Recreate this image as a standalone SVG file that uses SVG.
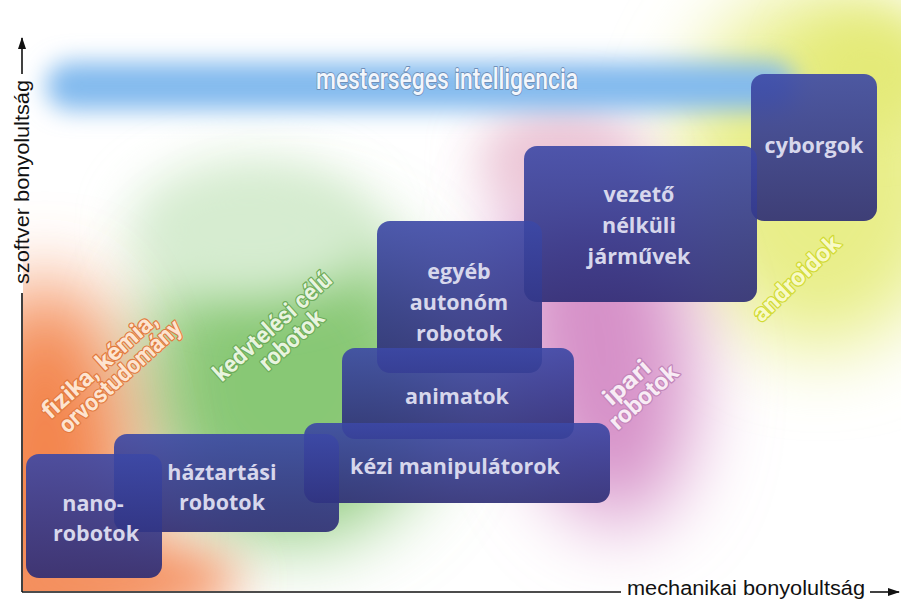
<svg xmlns="http://www.w3.org/2000/svg" width="901" height="601" viewBox="0 0 901 601">
<defs>
  <filter id="b40" x="-60%" y="-60%" width="220%" height="220%"><feGaussianBlur stdDeviation="40"/></filter>
  <filter id="b25" x="-60%" y="-60%" width="220%" height="220%"><feGaussianBlur stdDeviation="25"/></filter>
  <filter id="b10" x="-20%" y="-80%" width="140%" height="260%"><feGaussianBlur stdDeviation="12"/></filter>
  <clipPath id="plot"><rect x="23" y="0" width="878" height="591"/></clipPath>
  <linearGradient id="boxg" x1="0" y1="0" x2="0" y2="1">
    <stop offset="0" stop-color="#3c48a6"/>
    <stop offset="1" stop-color="#2b2b74"/>
  </linearGradient>
  <marker id="arr" markerWidth="12" markerHeight="8" refX="11" refY="4" orient="auto" markerUnits="userSpaceOnUse">
    <path d="M0,0 L12,4 L0,8 Z" fill="#111"/>
  </marker>
</defs>
<style>
  .box { fill: url(#boxg); opacity: 0.9; }
  .lbl { font-family: "Open Sans", "Noto Sans", sans-serif; font-weight: 700; font-size: 21.5px; fill: #d7d7ec; text-anchor: middle; }
  .cat { font-family: Roboto, "Noto Sans", sans-serif; font-weight: 700; font-size: 24px; text-anchor: middle; stroke-width: 2.4px; stroke-linejoin: round; paint-order: stroke; }
  .axis { font-family: "Liberation Sans", Arial, sans-serif; font-size: 20px; fill: #111; text-anchor: middle; }
  .ax { stroke: #111; stroke-width: 1.6; fill: none; }
</style>

<rect width="901" height="601" fill="#ffffff"/>

<g id="background" clip-path="url(#plot)">
  <ellipse cx="820" cy="170" rx="140" ry="180" fill="#e8ee88" filter="url(#b40)"/>
  <ellipse cx="870" cy="70" rx="70" ry="60" fill="#e4ea78" filter="url(#b25)"/>
  <ellipse cx="600" cy="340" rx="90" ry="185" fill="#d690c8" filter="url(#b40)" transform="rotate(-8 600 340)"/>
  <ellipse cx="560" cy="160" rx="80" ry="55" fill="#ecc6d6" filter="url(#b25)"/>
  <ellipse cx="290" cy="380" rx="150" ry="160" fill="#88c874" filter="url(#b40)"/>
  <ellipse cx="250" cy="230" rx="120" ry="70" fill="#d6ecd0" filter="url(#b25)"/>
  <ellipse cx="45" cy="500" rx="90" ry="220" fill="#f3844c" filter="url(#b40)"/>
  <ellipse cx="110" cy="580" rx="130" ry="40" fill="#f49262" filter="url(#b25)"/>
  <rect x="46" y="62" width="750" height="48" rx="24" fill="#82baee" filter="url(#b10)"/>
</g>

<text x="447" y="89" font-family="Roboto, 'Noto Sans', sans-serif" font-weight="500" font-size="30" fill="#f2f6fc" stroke="#6f8fb8" stroke-width="1.8" stroke-linejoin="round" paint-order="stroke" text-anchor="middle" textLength="262" lengthAdjust="spacingAndGlyphs">mesterséges intelligencia</text>

<g id="cat-fizika" transform="translate(100,366) rotate(-42)">
  <text class="cat" x="0" y="7" fill="#fde4d0" stroke="#e27a40" textLength="146" lengthAdjust="spacingAndGlyphs">fizika, kémia,</text>
  <text class="cat" x="8" y="29" fill="#fde4d0" stroke="#e27a40" textLength="156" lengthAdjust="spacingAndGlyphs">orvostudomány</text>
</g>
<g id="cat-kedvteles" transform="translate(273,327) rotate(-42)">
  <text class="cat" x="0" y="7" fill="#e8f4df" stroke="#6cab5a" textLength="150" lengthAdjust="spacingAndGlyphs">kedvtelési célú</text>
  <text class="cat" x="5" y="30" fill="#e8f4df" stroke="#6cab5a" textLength="78" lengthAdjust="spacingAndGlyphs">robotok</text>
</g>
<g id="cat-ipari" transform="translate(628,384) rotate(-42)">
  <text class="cat" x="0" y="6" fill="#f8ecf5" stroke="#c386ba" textLength="55" lengthAdjust="spacingAndGlyphs">ipari</text>
  <text class="cat" x="3" y="28" fill="#f8ecf5" stroke="#c386ba" textLength="84" lengthAdjust="spacingAndGlyphs">robotok</text>
</g>
<g id="cat-androidok" transform="translate(797,279) rotate(-44)">
  <text class="cat" x="0" y="7" fill="#f8fac8" stroke="#d2da36" textLength="112" lengthAdjust="spacingAndGlyphs">androidok</text>
</g>

<g id="node-cyborgok">
  <rect class="box" x="751" y="74" width="126" height="147" rx="13"/>
  <text class="lbl" x="814" y="153">cyborgok</text>
</g>
<g id="node-vezeto">
  <rect class="box" x="524" y="146" width="233" height="156" rx="13"/>
  <text class="lbl" x="639" y="202">vezető</text>
  <text class="lbl" x="639" y="233">nélküli</text>
  <text class="lbl" x="639" y="264">járművek</text>
</g>
<g id="node-egyeb">
  <rect class="box" x="377" y="221" width="165" height="152" rx="13"/>
  <text class="lbl" x="459" y="279">egyéb</text>
  <text class="lbl" x="459" y="310">autonóm</text>
  <text class="lbl" x="459" y="341">robotok</text>
</g>
<g id="node-animatok">
  <rect class="box" x="342" y="348" width="232" height="91" rx="13"/>
  <text class="lbl" x="457" y="404">animatok</text>
</g>
<g id="node-kezi">
  <rect class="box" x="304" y="423" width="306" height="80" rx="13"/>
  <text class="lbl" x="455" y="474">kézi manipulátorok</text>
</g>
<g id="node-haztartasi">
  <rect class="box" x="114" y="434" width="225" height="98" rx="13"/>
  <text class="lbl" x="222" y="480">háztartási</text>
  <text class="lbl" x="222" y="510">robotok</text>
</g>
<g id="node-nano">
  <rect class="box" x="26" y="454" width="136" height="124" rx="13"/>
  <text class="lbl" x="93" y="511">nano-</text>
  <text class="lbl" x="96" y="541">robotok</text>
</g>

<g id="connectors">
  <line class="ax" x1="22" y1="592" x2="22" y2="293"/>
  <line class="ax" x1="22" y1="74" x2="22" y2="38" marker-end="url(#arr)"/>
  <line class="ax" x1="22" y1="592" x2="621" y2="592"/>
  <line class="ax" x1="870" y1="592" x2="899" y2="592" marker-end="url(#arr)"/>
</g>
<text class="axis" transform="translate(29,182) rotate(-90)" x="0" y="0" textLength="204" lengthAdjust="spacingAndGlyphs">szoftver bonyolultság</text>
<text class="axis" x="746" y="595" textLength="238" lengthAdjust="spacingAndGlyphs">mechanikai bonyolultság</text>
</svg>
